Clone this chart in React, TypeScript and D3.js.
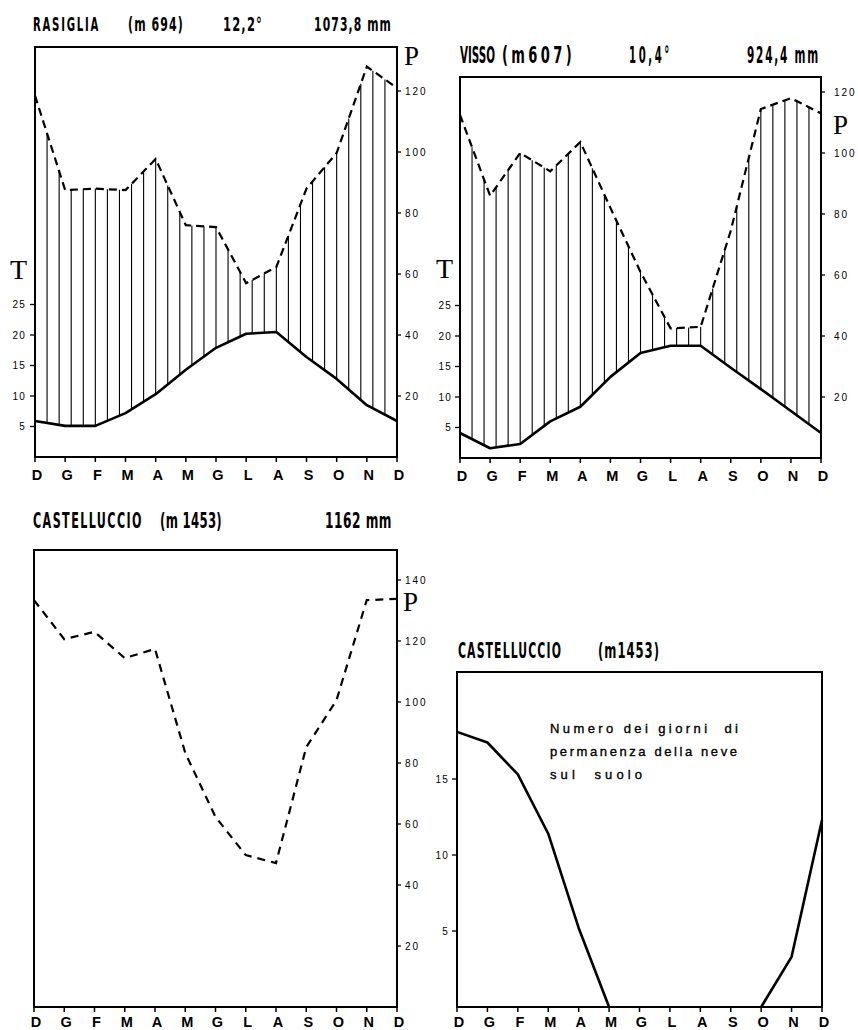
import * as d3 from "d3";

// months, Dec repeated at both ends (Italian initials)
const months = ["D", "G", "F", "M", "A", "M", "G", "L", "A", "S", "O", "N", "D"];

// Rasiglia (m 694)
const rasigliaT = [5.9, 5.1, 5.1, 7.2, 10.3, 14.3, 17.9, 20.2, 20.5, 16.4, 12.8, 8.5, 5.9];
const rasigliaP = [118.5, 87.5, 88, 87.5, 97.7, 76, 75.4, 57, 62.3, 88, 99.7, 128, 121];

// Visso (m 607)
const vissoT = [4.1, 1.6, 2.3, 6.0, 8.4, 13.3, 17.2, 18.4, 18.4, 14.8, 11.3, 7.7, 4.1];
const vissoP = [112.5, 86, 100, 94, 103.6, 82, 61, 42.5, 43, 74.5, 114.4, 118, 113];

// Castelluccio (m 1453)
const castelluccioP = [133.4, 120.6, 123, 114.4, 117.4, 83.3, 62.3, 49.8, 47.2, 85.2, 100.6, 133.4, 133.8];
const snowDays = [18.1, 17.4, 15.3, 11.4, 5.2, 0, 0, 0, 0, 0, 0, 3.3, 12.3];

const tTicks = [5, 10, 15, 20, 25];
const pTicksTop = [20, 40, 60, 80, 100, 120];
const pTicksCast = [20, 40, 60, 80, 100, 120, 140];
const snowTicks = [5, 10, 15];

const TITLE_FONT = "'Liberation Sans Narrow', 'DejaVu Sans Condensed', 'Arial Narrow', sans-serif";
const SANS = "'Liberation Sans', Arial, sans-serif";
const SERIF = "'Liberation Serif', 'DejaVu Serif', serif";

const interp = (vals, m) => {
    const i = Math.min(Math.floor(m), vals.length - 2);
    return d3.interpolateNumber(vals[i], vals[i + 1])(m - i);
};

// tall condensed headings: small type stretched vertically, width pinned by textLength
const TitleRow = ({ y, sy, parts }) => (
    <g>
        {parts.map((p) => (
            <text
                key={p.text}
                transform={`translate(${p.x},${y}) scale(1,${sy})`}
                textLength={p.w}
                lengthAdjust="spacingAndGlyphs"
                fontFamily={TITLE_FONT}
                fontWeight="bold"
                fontSize={13}
                letterSpacing={p.ls ?? 1.2}
                style={{ whiteSpace: "pre" }}
            >
                {p.text}
            </text>
        ))}
    </g>
);

const MonthAxis = ({ x, y0, base }) => (
    <g>
        {months.map((m, i) => (
            <g key={i}>
                <line x1={x(i)} x2={x(i)} y1={y0} y2={y0 + 5} stroke="#000" strokeWidth={1.5} />
                <text
                    x={x(i) + 2}
                    y={base}
                    textAnchor="middle"
                    fontFamily={SANS}
                    fontWeight="bold"
                    fontSize={14.5}
                >
                    {m}
                </text>
            </g>
        ))}
    </g>
);

const TickAxis = ({ ticks, scale, x, side, labelX }) => (
    <g>
        {ticks.map((t) => (
            <g key={t}>
                <line
                    x1={x}
                    x2={side === "left" ? x - 5 : x + 4}
                    y1={scale(t)}
                    y2={scale(t)}
                    stroke="#000"
                    strokeWidth={1.3}
                />
                {labelX != null && (
                    <text
                        x={labelX}
                        y={scale(t) + 3.5}
                        textAnchor={side === "left" ? "end" : "start"}
                        fontFamily={SANS}
                        fontSize={10}
                        letterSpacing={side === "left" ? 1.2 : 1.9}
                    >
                        {t}
                    </text>
                )}
            </g>
        ))}
    </g>
);

// thermo-pluviometric diagram with hatching between T and P (P = 2T)
const Climograph = ({ x0, x1, top, bottom, T, P, tLabelEnd, pLabelStart, tLetter, pLetter }) => {
    const x = d3.scaleLinear().domain([0, 12]).range([x0, x1]);
    const yP = d3.scaleLinear().domain([0, 100]).range([bottom, bottom - 305]);
    const yT = d3.scaleLinear().domain([0, 50]).range([bottom, bottom - 305]);

    const tLine = d3.line().x((d, i) => x(i)).y((d) => yT(d));
    const pLine = d3.line().x((d, i) => x(i)).y((d) => yP(d));
    const hatch = d3.range(1, 30).map((k) => (k * 12) / 30);

    return (
        <g>
            {hatch.map((m) => (
                <line
                    key={m}
                    x1={x(m)}
                    x2={x(m)}
                    y1={yT(interp(T, m))}
                    y2={yP(interp(P, m))}
                    stroke="#000"
                    strokeWidth={1.1}
                />
            ))}
            <path d={pLine(P)} fill="none" stroke="#000" strokeWidth={2.2} strokeDasharray="8 5" />
            <path d={tLine(T)} fill="none" stroke="#000" strokeWidth={2.6} strokeLinejoin="round" />
            <rect x={x0} y={top} width={x1 - x0} height={bottom - top} fill="none" stroke="#000" strokeWidth={2} />
            <TickAxis ticks={tTicks} scale={yT} x={x0} side="left" labelX={tLabelEnd} />
            <TickAxis ticks={pTicksTop} scale={yP} x={x1} side="right" labelX={pLabelStart} />
            <MonthAxis x={x} y0={bottom} base={bottom + 23} />
            <text x={tLetter[0]} y={tLetter[1]} fontFamily={SERIF} fontSize={28}>T</text>
            <text x={pLetter[0]} y={pLetter[1]} fontFamily={SERIF} fontSize={27}>P</text>
        </g>
    );
};

const CastelluccioRain = () => {
    const x0 = 34, x1 = 397, top = 550, bottom = 1007;
    const x = d3.scaleLinear().domain([0, 12]).range([x0, x1]);
    const yP = d3.scaleLinear().domain([0, 100]).range([bottom, bottom - 305]);
    const pLine = d3.line().x((d, i) => x(i)).y((d) => yP(d));
    return (
        <g>
            <path d={pLine(castelluccioP)} fill="none" stroke="#000" strokeWidth={2.2} strokeDasharray="8 6" />
            <rect x={x0} y={top} width={x1 - x0} height={bottom - top} fill="none" stroke="#000" strokeWidth={2} />
            <TickAxis ticks={pTicksCast} scale={yP} x={x1} side="right" labelX={405} />
            <MonthAxis x={x} y0={bottom} base={1027} />
            <text x={403} y={611} fontFamily={SERIF} fontSize={27}>P</text>
        </g>
    );
};

const SnowChart = () => {
    const x0 = 457, x1 = 822, top = 672, bottom = 1007;
    const x = d3.scaleLinear().domain([0, 12]).range([x0, x1]);
    const y = d3.scaleLinear().domain([0, 15]).range([bottom, 779]);
    const line = d3
        .line()
        .defined((d, i) => d > 0 || (snowDays[i - 1] ?? 0) > 0 || (snowDays[i + 1] ?? 0) > 0)
        .x((d, i) => x(i))
        .y((d) => y(d));
    const note = [
        { text: "Numero dei giorni  di", y: 733, w: 188 },
        { text: "permanenza della neve", y: 756, w: 187 },
        { text: "sul  suolo", y: 779, w: 92 },
    ];
    return (
        <g>
            <path d={line(snowDays)} fill="none" stroke="#000" strokeWidth={2.6} strokeLinejoin="round" />
            <rect x={x0} y={top} width={x1 - x0} height={bottom - top} fill="none" stroke="#000" strokeWidth={2} />
            <TickAxis ticks={snowTicks} scale={y} x={x0} side="left" labelX={449} />
            <MonthAxis x={x} y0={bottom} base={1027} />
            {note.map((n) => (
                <text
                    key={n.text}
                    x={550}
                    y={n.y}
                    textLength={n.w}
                    lengthAdjust="spacing"
                    fontFamily={SANS}
                    fontSize={13}
                    stroke="#000"
                    strokeWidth={0.35}
                    style={{ whiteSpace: "pre" }}
                >
                    {n.text}
                </text>
            ))}
        </g>
    );
};

export default function App() {
    return (
        <svg
            width={858}
            height={1030}
            style={{ position: "absolute", left: 0, top: 0, background: "#fff" }}
        >
            <rect width={858} height={1030} fill="#fff" />
            <TitleRow
                y={30.5}
                sy={1.55}
                parts={[
                    { text: "RASIGLIA", x: 33, w: 67, ls: 2 },
                    { text: "(m 694)", x: 128, w: 56 },
                    { text: "12,2°", x: 223, w: 40 },
                    { text: "1073,8 mm", x: 314, w: 78 },
                ]}
            />
            <Climograph
                x0={35}
                x1={397}
                top={47}
                bottom={457}
                T={rasigliaT}
                P={rasigliaP}
                tLabelEnd={26}
                pLabelStart={405}
                tLetter={[10, 279]}
                pLetter={[404, 65]}
            />
            <TitleRow
                y={63}
                sy={1.8}
                parts={[
                    { text: "VISSO", x: 460, w: 35, ls: 0 },
                    { text: "(m607)", x: 502, w: 73, ls: 3 },
                    { text: "10,4°", x: 629, w: 43, ls: 3 },
                    { text: "924,4 mm", x: 747, w: 73, ls: 2 },
                ]}
            />
            <Climograph
                x0={460}
                x1={821}
                top={77}
                bottom={458}
                T={vissoT}
                P={vissoP}
                tLabelEnd={452}
                pLabelStart={834}
                tLetter={[436, 278]}
                pLetter={[833, 134]}
            />
            <TitleRow
                y={528}
                sy={1.6}
                parts={[
                    { text: "CASTELLUCCIO", x: 33, w: 110, ls: 1.5 },
                    { text: "(m 1453)", x: 160, w: 62, ls: 0.3 },
                    { text: "1162 mm", x: 325, w: 67, ls: 0.5 },
                ]}
            />
            <CastelluccioRain />
            <TitleRow
                y={658}
                sy={1.6}
                parts={[
                    { text: "CASTELLUCCIO", x: 458, w: 104, ls: 1.2 },
                    { text: "(m1453)", x: 598, w: 62, ls: 1 },
                ]}
            />
            <SnowChart />
        </svg>
    );
}
